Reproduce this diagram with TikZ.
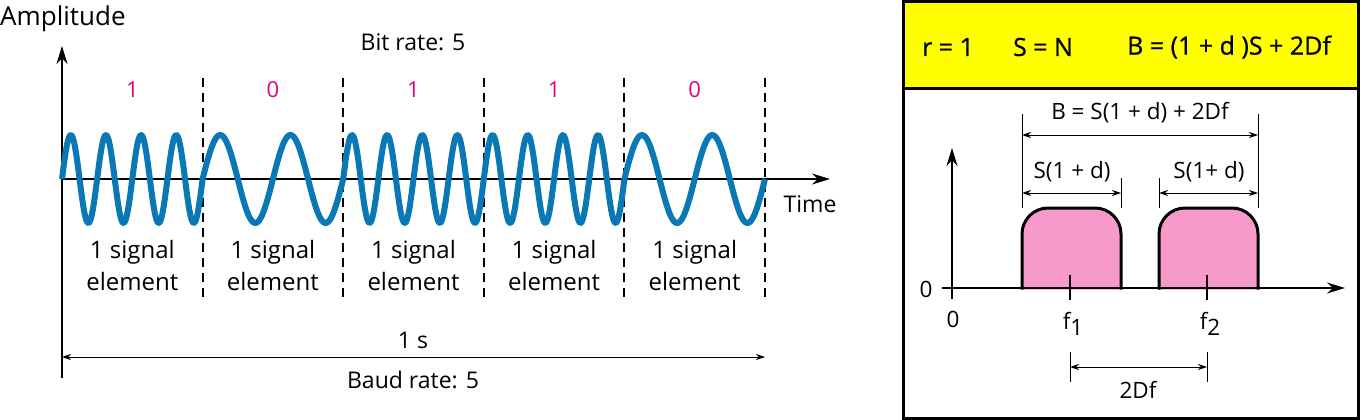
\documentclass[tikz,border=0pt]{standalone}
\usepackage{fontspec}
\setmainfont{Open Sans}
\newfontfamily\hdrfont{Open Sans}[FakeBold=0.8]
\usetikzlibrary{arrows.meta}
\definecolor{wavec}{HTML}{0A78B4}
\definecolor{bitc}{HTML}{E6007E}
\definecolor{pinkc}{HTML}{F799CB}
\definecolor{yelc}{HTML}{FFFF00}
\tikzset{
  axis/.style={line width=2pt,-{Stealth[length=18pt,width=11pt]}},
  dimarrow/.style={line width=1pt,{Stealth[length=9pt,width=6pt]}-{Stealth[length=9pt,width=6pt]}},
  guide/.style={line width=1pt},
  sepline/.style={line width=2pt,dash pattern=on 9pt off 6pt},
  wave/.style={line width=6pt,wavec,line join=round},
  lbl/.style={inner sep=0pt,font=\fontsize{23}{26}\selectfont},
  bit/.style={inner sep=0pt,text=bitc,font=\fontsize{22}{26}\selectfont},
  sig/.style={inner sep=0pt,align=center,font=\fontsize{24}{32}\selectfont},
  hdr/.style={inner sep=0pt,font=\hdrfont\fontsize{25}{28}\selectfont},
  sml/.style={inner sep=0pt,font=\fontsize{22.5}{26}\selectfont},
  band/.style={line width=3pt,fill=pinkc,rounded corners=26pt}
}
\begin{document}
\begin{tikzpicture}[x=1pt,y=-1pt]
\useasboundingbox (0,0) rectangle (1361,420);
% ---------------- left panel ----------------
\coordinate (O) at (62,179);
\coordinate (ybot) at (62,378);
\coordinate (ytop) at (62,46);
\coordinate (xend) at (830,179);
\draw[line width=2pt] (O) -- (ybot);
\draw[axis] (O) -- (ytop);
\draw[axis,line width=1.5pt] (O) -- (xend);
\node[lbl,anchor=west,font=\fontsize{26}{28}\selectfont] (amp) at (0,19) {Amplitude};
\node[lbl] (bitrate) at (413,42) {Bit rate: 5};
\node[lbl] (time) at (810,204) {Time};
% separators
\foreach \i/\x in {1/202.6,2/343.2,3/483.8,4/624.4,5/765} {
  \coordinate (st\i) at (\x,78);
  \coordinate (sb\i) at (\x,300);
  \draw[sepline] (st\i) -- (sb\i);
}
% waveform
\draw[wave] plot[domain=62:202.6,samples=160] (\x,{179-44*sin((\x-62)*10.2418)})
  -- plot[domain=202.6:343.2,samples=100] (\x,{179-44*sin((\x-202.6)*5.1209)})
  -- plot[domain=343.2:624.4,samples=300] (\x,{179-44*sin((\x-343.2)*10.2418)})
  -- plot[domain=624.4:765,samples=100] (\x,{179-44*sin((\x-624.4)*5.1209)});
% bits
\node[bit] (b1) at (132.3,90) {1};
\node[bit] (b2) at (272.9,90) {0};
\node[bit] (b3) at (413.5,90) {1};
\node[bit] (b4) at (554.1,90) {1};
\node[bit] (b5) at (694.7,90) {0};
% signal elements
\foreach \i/\x in {1/132.3,2/272.9,3/413.5,4/554.1,5/694.7}
  \node[sig] (se\i) at (\x,265) {1 signal\\element};
% 1 s
\node[lbl] (ones) at (413,340) {1 s};
\coordinate (sl) at (62,357);
\coordinate (sr) at (765,357);
\draw[dimarrow] (sl) -- (sr);
\node[lbl] (baud) at (413,380) {Baud rate: 5};
% ---------------- right panel ----------------
\node[draw=none,fill=yelc,minimum width=455pt,minimum height=86pt,anchor=north west,inner sep=0pt] (hdrbox) at (903,2) {};
\draw[line width=3pt] (903,2) rectangle (1358,418);
\draw[line width=3pt] (hdrbox.south west) -- (hdrbox.south east);
\node[hdr] (h1) at (948,47) {r = 1};
\node[hdr] (h2) at (1043,47) {S = N};
\node[hdr] (h3) at (1229,47) {B = (1 + d )S + 2Df};
% axes
\coordinate (P) at (952,288);
\coordinate (pyb) at (952,299);
\coordinate (pyt) at (952,148);
\coordinate (pxl) at (942,288);
\coordinate (pxr) at (1345,288);
% bands
\draw[band] (1022,289.5) -- (1022,208) -- (1121,208) -- (1121,289.5);
\draw[band] (1159,289.5) -- (1159,208) -- (1258,208) -- (1258,289.5);
\draw[line width=2pt] (pyb) -- (P);
\draw[axis] (P) -- (pyt);
\draw[axis] (pxl) -- (pxr);
\node[sml] (zl) at (926,289) {0};
\node[sml] (zb) at (953,319) {0};
% ticks
\coordinate (f1t) at (1070,275);
\coordinate (f1b) at (1070,300);
\coordinate (f2t) at (1207,275);
\coordinate (f2b) at (1207,300);
\draw[line width=2pt] (f1t) -- (f1b);
\draw[line width=2pt] (f2t) -- (f2b);
\node[sml] (f1) at (1073,324) {f\raisebox{-0.45ex}{1}};
\node[sml] (f2) at (1210,324) {f\raisebox{-0.45ex}{2}};
% 2Df
\coordinate (d1t) at (1070,352);
\coordinate (d1b) at (1070,382);
\coordinate (d2t) at (1207,352);
\coordinate (d2b) at (1207,382);
\draw[guide] (d1t) -- (d1b);
\draw[guide] (d2t) -- (d2b);
\draw[dimarrow] (1070,367) -- (1207,367);
\node[sml] (twodf) at (1138,390) {2Df};
% S(1+d) guides
\coordinate (g1t) at (1022,114);
\coordinate (g1b) at (1022,208);
\coordinate (g2t) at (1121,178);
\coordinate (g2b) at (1121,208);
\coordinate (g3t) at (1159,178);
\coordinate (g3b) at (1159,208);
\coordinate (g4t) at (1258,114);
\coordinate (g4b) at (1258,208);
\foreach \i in {1,2,3,4} \draw[guide] (g\i t) -- (g\i b);
\draw[dimarrow] (1022,193) -- (1121,193);
\draw[dimarrow] (1159,193) -- (1258,193);
\draw[dimarrow] (1022,135) -- (1258,135);
\node[sml] (s1) at (1072,172) {S(1 + d)};
\node[sml] (s2) at (1209,172) {S(1+ d)};
\node[sml] (btot) at (1140,113) {B = S(1 + d) + 2Df};
\end{tikzpicture}
\end{document}
